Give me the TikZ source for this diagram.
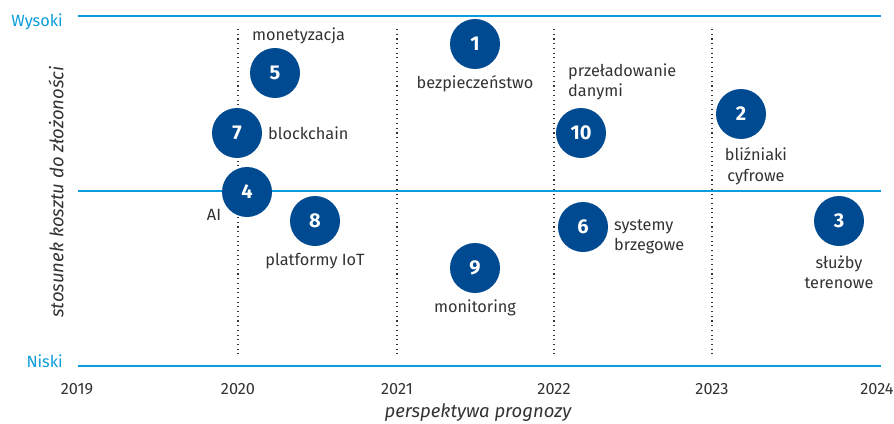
\documentclass[tikz,border=0pt]{standalone}
\usepackage{fontspec}
\setmainfont{Fira Sans}
\usetikzlibrary{positioning}
\definecolor{liniaos}{HTML}{0A9CDC}
\definecolor{kolo}{HTML}{004A91}
\definecolor{tekst}{HTML}{333333}

\begin{document}
\begin{tikzpicture}[x=1pt,y=-1pt,
    every node/.style={text=tekst,font=\fontsize{16.3}{20.5}\selectfont},
    kolo/.style={circle,fill=kolo,minimum size=50pt,inner sep=0pt,text=white,
      font=\fontsize{20}{20}\selectfont\bfseries},
    opis/.style={align=center,inner sep=0pt},
    opisl/.style={align=left,inner sep=0pt,anchor=west},
    poziom/.style={text=liniaos,anchor=east,inner sep=0pt},
    rok/.style={inner sep=0pt},
    tytul/.style={inner sep=0pt,font=\fontsize{18.5}{20}\selectfont\itshape},
    os/.style={liniaos,line width=2.6pt},
    srodek/.style={liniaos,line width=2pt},
    kropki/.style={tekst,line width=1.1pt,dash pattern=on 1.1pt off 3.6pt}]
  \useasboundingbox (0,0) rectangle (894,423);

  % osie
  \draw[os] (78,16) -- (881,16);
  \draw[srodek] (78,191) -- (881,191);
  \draw[os] (78,366) -- (881,366);
  \foreach \x in {238,397,554,712}
    \draw[kropki] (\x,29) -- (\x,357);

  \node[poziom] (wys) at (63,22) {Wysoki};
  \node[poziom] (nis) at (63,361) {Niski};
  \node[rok] (r19) at (77,389) {2019};
  \node[rok] (r20) at (238,389) {2020};
  \node[rok] (r21) at (397,389) {2021};
  \node[rok] (r22) at (554,389) {2022};
  \node[rok] (r23) at (712,389) {2023};
  \node[rok] (r24) at (877,389) {2024};
  \node[tytul] (osx) at (478,413) {perspektywa prognozy};
  \node[tytul,rotate=90] (osy) at (56,192) {stosunek kosztu do złożoności};

  % technologie
  \node[kolo] (k1) at (475,44) {1};
  \node[kolo] (k2) at (741,114) {2};
  \node[kolo] (k3) at (839,221) {3};
  \node[kolo] (k5) at (275,73) {5};
  \node[kolo] (k6) at (583,227) {6};
  \node[kolo] (k7) at (237,133) {7};
  \node[kolo] (k4) at (247,192) {4};
  \node[kolo] (k8) at (315,221) {8};
  \node[kolo] (k9) at (475,268) {9};
  \node[kolo] (k10) at (581,133) {10};

  \node[opis] (t1) at (475,84) {bezpieczeństwo};
  \node[opis] (t2) at (756,166) {bliźniaki\\cyfrowe};
  \node[opis] (t3) at (839,272) {służby\\terenowe};
  \node[opis] (t4) at (214,215) {AI};
  \node[opisl] (t5) at (252,36) {monetyzacja};
  \node[opisl] (t6) at (614,237) {systemy\\brzegowe};
  \node[opisl] (t7) at (268,133) {blockchain};
  \node[opis] (t8) at (315,261) {platformy IoT};
  \node[opis] (t9) at (475,308) {monitoring};
  \node[opisl] (t10) at (568,82) {przeładowanie\\danymi};
\end{tikzpicture}
\end{document}
